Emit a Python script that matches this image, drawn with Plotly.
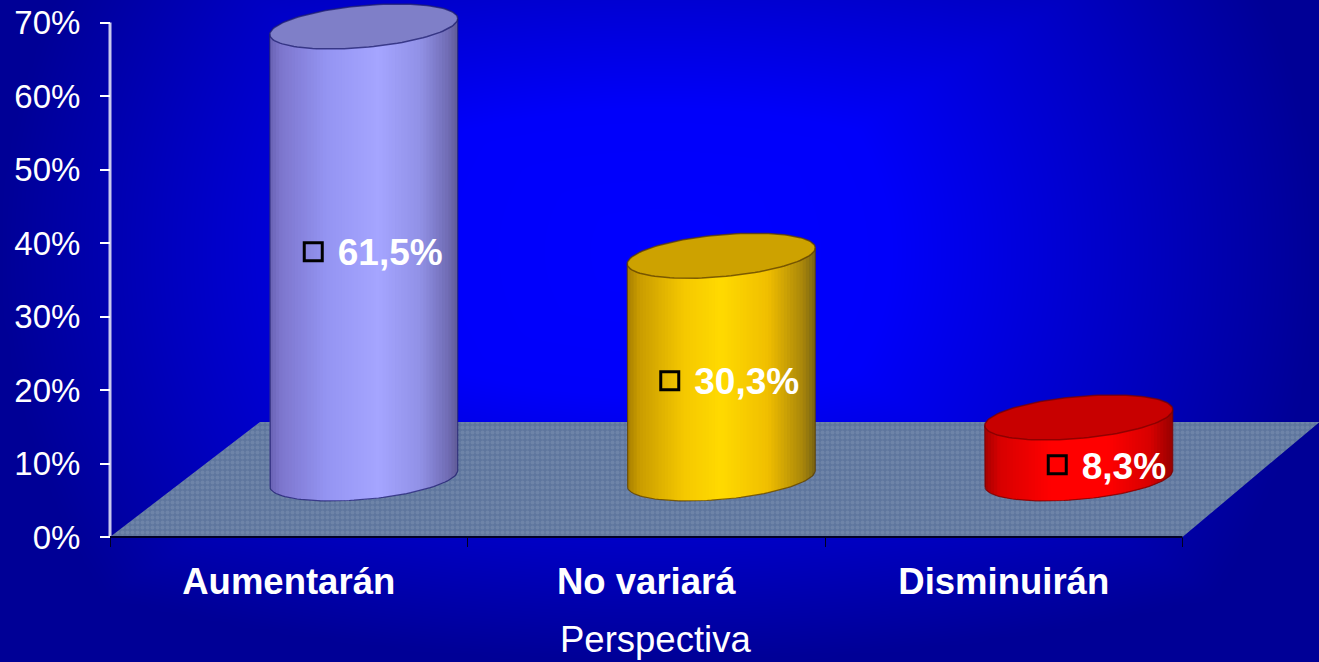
import numpy as np
import plotly.graph_objects as go

categories = ["Aumentarán", "No variará", "Disminuirán"]
values = [0.615, 0.303, 0.083]
y_ticks = [0, 0.1, 0.2, 0.3, 0.4, 0.5, 0.6, 0.7]
axis_title = "Perspectiva"

W, H = 1319, 662
PX_X = 1 / 357.5    # category units per pixel
PX_Y = 1 / 735.0    # value units per pixel
FONT = "Liberation Sans, Arial, sans-serif"

side_stops = [
    [(0, (105, 98, 180)), (.06, (125, 118, 205)), (.3, (148, 148, 242)), (.58, (165, 165, 255)), (.8, (145, 145, 230)), (.95, (112, 108, 180)), (1, (95, 90, 150))],
    [(0, (165, 125, 0)), (.06, (200, 155, 0)), (.3, (245, 200, 0)), (.5, (255, 218, 0)), (.75, (240, 190, 0)), (.93, (170, 135, 10)), (1, (120, 100, 20))],
    [(0, (165, 0, 0)), (.08, (215, 0, 0)), (.35, (255, 0, 0)), (.65, (255, 0, 0)), (.88, (215, 0, 0)), (1, (150, 0, 0))],
]
cap_colors = ["#7f7fc8", "#cda200", "#c80000"]
edge_colors = ["rgba(30,30,110,0.75)", "rgba(90,60,0,0.75)", "rgba(120,0,0,0.75)"]
label_nudge_x_px = [1, 0, 30]
label_nudge_y_px = [1, 5, 1]

fig = go.Figure()

# full-page backdrop gradient (subplot x/y)
gx = np.linspace(0, 1, 165)
gy = np.linspace(0, 1, 83)
X, Y = np.meshgrid(gx, gy)
dx = (X - 0.5) / 0.5
dy = (Y - 0.62) / 0.62
t = np.clip(np.maximum(np.abs(dx), np.abs(dy)) * 0.55 + np.sqrt(dx**2 + dy**2) * 0.45, 0, 1)
fig.add_trace(go.Heatmap(x=gx, y=gy, z=t, zmin=0, zmax=1, zsmooth="best", showscale=False, hoverinfo="skip",
                         colorscale=[[0, "rgb(0,0,255)"], [.35, "rgb(0,0,250)"], [.75, "rgb(0,0,190)"], [1, "rgb(0,0,150)"]],
                         xaxis="x", yaxis="y"))

def add(tr):
    fig.add_trace(tr.update(xaxis="x2", yaxis="y2", cliponaxis=False, hoverinfo="skip", showlegend=False))

# floor
depth_y = 115 * PX_Y
add(go.Scatter(x=[-0.5, 2.5, 2.5 + 137 * PX_X, -0.5 + 150 * PX_X, -0.5],
               y=[0, 0, depth_y, depth_y, 0], mode="lines", line=dict(width=0), fill="toself",
               fillcolor="#5e769e",
               fillpattern=dict(shape=".", bgcolor="#5e769e", fgcolor="#6e84a8", size=5, solidity=0.5)))

# axis lines
add(go.Scatter(x=[-0.5, -0.5], y=[0, y_ticks[-1]], mode="lines", line=dict(width=3, color="#c8c8ee")))
add(go.Scatter(x=[-0.5, 2.5], y=[0, 0], mode="lines", line=dict(width=2, color="#000028")))

# cylinders
a = 94 * PX_X
b = 21 * PX_Y
k = 8 * PX_Y
base_y = 58.5 * PX_Y
cx_off = 75 * PX_X
N = 60

def lerp(stops, u):
    for (p0, c0), (p1, c1) in zip(stops, stops[1:]):
        if u <= p1:
            f = (u - p0) / (p1 - p0)
            return tuple(int(round(c0[j] + (c1[j] - c0[j]) * f)) for j in range(3))
    return stops[-1][1]

for i, v in enumerate(values):
    cx = i + cx_off
    top = base_y + v
    for s in range(N):
        u0 = -1 + 2 * s / N
        u1 = min(1, -1 + 2 * (s + 1.6) / N)
        us = np.linspace(u0, u1, 4)
        lo = base_y + k * us - b * np.sqrt(np.clip(1 - us**2, 0, 1))
        hi = top + k * us
        xs = np.r_[cx + a * us, cx + a * us[::-1]]
        ys = np.r_[lo, hi[::-1]]
        col = lerp(side_stops[i], (s + .5) / N)
        add(go.Scatter(x=xs, y=ys, mode="lines", line=dict(width=0), fill="toself", fillcolor="rgb(%d,%d,%d)" % col))
    th = np.linspace(0, 2 * np.pi, 121)
    # cap ellipse
    add(go.Scatter(x=cx + a * np.cos(th), y=top + k * np.cos(th) + b * np.sin(th), mode="lines",
                   line=dict(width=1.5, color=edge_colors[i]), fill="toself", fillcolor=cap_colors[i]))
    # outline of sides and front of base
    ta = np.linspace(np.pi, 2 * np.pi, 61)
    add(go.Scatter(x=np.r_[cx - a, cx + a * np.cos(ta), cx + a],
                   y=np.r_[top - k, base_y + k * np.cos(ta) + b * np.sin(ta), top + k],
                   mode="lines", line=dict(width=1.2, color=edge_colors[i])))

# data-label keys and values
mark_y = [v * 0.545 + 0.0544 - label_nudge_y_px[i] * PX_Y for i, v in enumerate(values)]
mark_x = [i + cx_off - 51.5 * PX_X + label_nudge_x_px[i] * PX_X for i in range(3)]
add(go.Scatter(x=mark_x, y=mark_y, mode="markers",
               marker=dict(symbol="square-open", size=18, color="black", line=dict(width=3, color="black"))))
add(go.Scatter(x=[m + 24.5 * PX_X for m in mark_x], y=[m - 4.5 * PX_Y for m in mark_y], mode="text",
               text=[("%.1f%%" % (v * 100)).replace(".", ",") for v in values], textposition="middle right",
               textfont=dict(family=FONT, size=37, color="white", weight="bold")))

fig.update_layout(
    width=W, height=H, template=None, showlegend=False,
    margin=dict(l=0, r=0, t=0, b=0, pad=0),
    paper_bgcolor="#0000c0", plot_bgcolor="rgba(0,0,0,0)",
    xaxis=dict(domain=[0, 1], range=[0, 1], visible=False, fixedrange=True),
    yaxis=dict(domain=[0, 1], range=[0, 1], visible=False, fixedrange=True),
    xaxis2=dict(domain=[0, 1], range=[-0.5 - 110 * PX_X, -0.5 + (W - 110) * PX_X], anchor="free", position=125 / H,
                overlaying="x", tickmode="array",
                tickvals=[0, 1, 2], ticktext=categories, ticks="", showgrid=False, zeroline=False,
                showline=False, automargin=False, fixedrange=True,
                ticklabelstandoff=19,
                tickfont=dict(family=FONT, size=36.5, color="white", weight="bold"),
                minor=dict(tickmode="array", tickvals=[-0.5, 0.5, 1.5, 2.5], ticks="outside", ticklen=9, tickwidth=1.2, tickcolor="#000020")),
    yaxis2=dict(domain=[0, 1], range=[-125 * PX_Y, 537 * PX_Y], anchor="free", position=110 / W,
                overlaying="y", tickmode="array", tickvals=y_ticks,
                tickformat=".0%", ticks="outside", ticklen=10, tickwidth=1.5, tickcolor="white",
                showgrid=False, zeroline=False, showline=False, automargin=False, fixedrange=True,
                ticklabelstandoff=13,
                tickfont=dict(family=FONT, size=33, color="white")),
    annotations=[dict(text=axis_title, xref="paper", yref="paper", x=655 / W, y=1 - 639 / H, showarrow=False,
                      xanchor="center", yanchor="middle", font=dict(family=FONT, size=36.5, color="white"))],
)

fig.write_html("out.html", config={"displayModeBar": False},
               post_script="document.body.style.margin='0';document.body.style.overflow='hidden';")
